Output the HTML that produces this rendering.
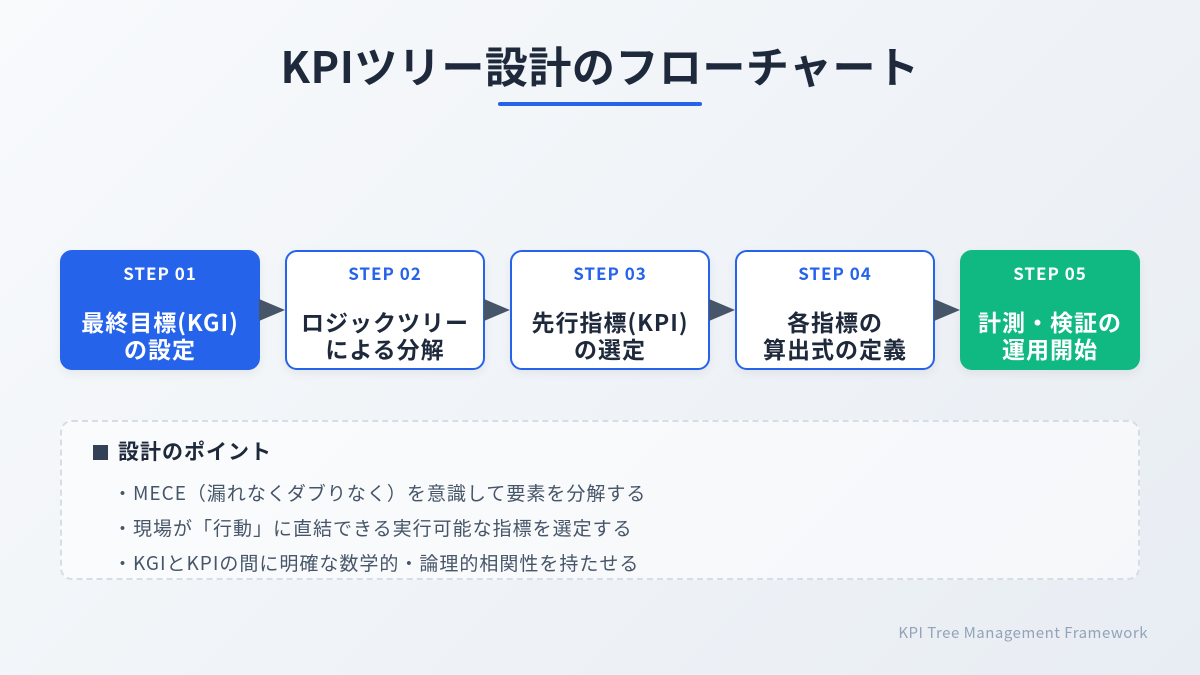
<!DOCTYPE html>
<html><head><meta charset="utf-8"><style>
*{margin:0;padding:0;box-sizing:border-box}
body{width:1200px;height:675px;overflow:hidden;background:linear-gradient(135deg,#f8fafc,#e8edf3);font-family:"Noto Sans CJK JP","Liberation Sans",sans-serif;position:relative;color:#1e293b}
.title{position:absolute;top:34px;left:0;width:1200px;text-align:center;font-size:43px;font-weight:bold;color:#1e293b;line-height:62px;letter-spacing:0.5px}
.ul{position:absolute;left:498px;top:102px;width:204px;height:4px;background:#2563eb;border-radius:2px}
.box{position:absolute;top:250px;height:120px;border-radius:12px;background:#fff;border:2px solid #2563eb;text-align:center;box-shadow:0 4px 10px rgba(0,0,0,0.06)}
.s{position:absolute;top:10px;left:0;right:0;font-size:17px;font-weight:bold;color:#2563eb;line-height:22px;letter-spacing:1px}
.m{position:absolute;top:56px;left:0;right:0;font-size:23px;font-weight:bold;line-height:27px;color:#1e293b;letter-spacing:1px}
.f1{background:#2563eb;border-color:#2563eb}.f1 .s,.f1 .m{color:#fff}
.f5{background:#10b981;border-color:#10b981}.f5 .s,.f5 .m{color:#fff}
.arr{position:absolute;top:299px;width:0;height:0;border-top:11px solid transparent;border-bottom:11px solid transparent;border-left:26px solid #475569}
.panel{position:absolute;left:60px;top:420px;width:1080px;height:160px;border:2px dashed #d6dde6;border-radius:12px;background:rgba(255,255,255,0.55)}
.h{position:absolute;left:93px;top:436px;font-size:21px;font-weight:bold;color:#1e293b;line-height:30px;letter-spacing:1px}
.h i{display:inline-block;width:15px;height:15px;background:#334155;margin-right:10px;vertical-align:-1px}
.it{position:absolute;left:113px;font-size:19px;color:#475569;line-height:26px;letter-spacing:1px}
.ft{position:absolute;right:52px;top:623px;font-size:15px;color:#94a3b8;line-height:20px;letter-spacing:0.5px}
</style></head><body>
<div class="title">KPIツリー設計のフローチャート</div>
<div class="ul"></div>
<div class="box f1" style="left:60px;width:200px"><div class="s">STEP 01</div><div class="m">最終目標(KGI)<br>の設定</div></div>
<div class="arr" style="left:259px"></div>
<div class="box" style="left:285px;width:200px"><div class="s">STEP 02</div><div class="m">ロジックツリー<br>による分解</div></div>
<div class="arr" style="left:484px"></div>
<div class="box" style="left:510px;width:200px"><div class="s">STEP 03</div><div class="m">先行指標(KPI)<br>の選定</div></div>
<div class="arr" style="left:709px"></div>
<div class="box" style="left:735px;width:200px"><div class="s">STEP 04</div><div class="m">各指標の<br>算出式の定義</div></div>
<div class="arr" style="left:934px"></div>
<div class="box f5" style="left:960px;width:180px"><div class="s">STEP 05</div><div class="m">計測・検証の<br>運用開始</div></div>
<div class="panel"></div>
<div class="h"><i></i>設計のポイント</div>
<div class="it" style="top:480px">・MECE（漏れなくダブりなく）を意識して要素を分解する</div>
<div class="it" style="top:515px">・現場が「行動」に直結できる実行可能な指標を選定する</div>
<div class="it" style="top:550px">・KGIとKPIの間に明確な数学的・論理的相関性を持たせる</div>
<div class="ft">KPI Tree Management Framework</div>
</body></html>
